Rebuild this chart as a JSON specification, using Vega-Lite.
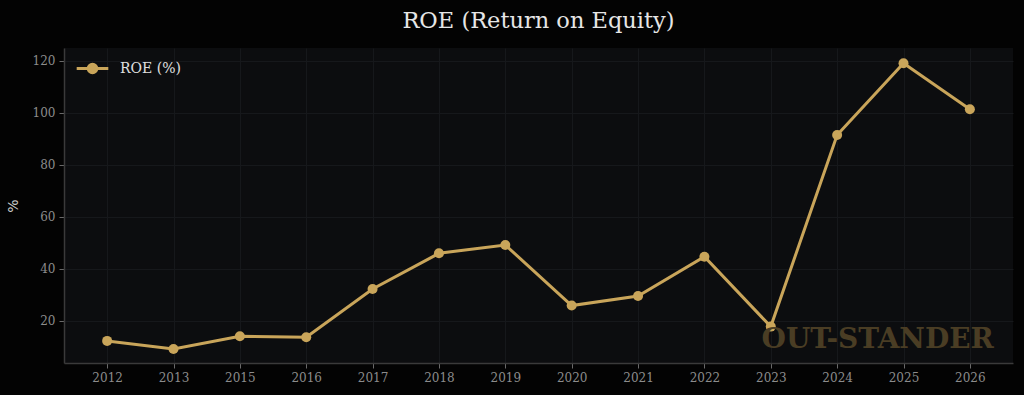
{
  "$schema": "https://vega.github.io/schema/vega-lite/v6.json",
  "width": 949,
  "height": 315,
  "autosize": {"type": "none"},
  "padding": {"left": 64, "top": 48, "right": 11, "bottom": 32},
  "background": "#030303",
  "title": {
    "text": "ROE (Return on Equity)",
    "font": "DejaVu Serif",
    "fontSize": 22.5,
    "fontWeight": "normal",
    "color": "#e6e6e6",
    "anchor": "middle",
    "offset": 16
  },
  "config": {
    "view": {"fill": "#0c0d0f", "stroke": null},
    "axis": {
      "labelFont": "DejaVu Serif",
      "labelFontSize": 12,
      "labelColor": "#8c8c8c",
      "tickColor": "#6a6a6a",
      "tickSize": 5,
      "domainColor": "#3a3a3a",
      "gridColor": "#16181b",
      "gridWidth": 1,
      "titleFont": "DejaVu Sans",
      "titleColor": "#cccccc",
      "titleFontSize": 14,
      "titleFontWeight": "normal"
    }
  },
  "data": {
    "values": [
      {"year": "2012", "roe": 12.3, "series": "ROE (%)"},
      {"year": "2013", "roe": 9.2, "series": "ROE (%)"},
      {"year": "2015", "roe": 14.1, "series": "ROE (%)"},
      {"year": "2016", "roe": 13.7, "series": "ROE (%)"},
      {"year": "2017", "roe": 32.3, "series": "ROE (%)"},
      {"year": "2018", "roe": 46.0, "series": "ROE (%)"},
      {"year": "2019", "roe": 49.2, "series": "ROE (%)"},
      {"year": "2020", "roe": 25.9, "series": "ROE (%)"},
      {"year": "2021", "roe": 29.6, "series": "ROE (%)"},
      {"year": "2022", "roe": 44.7, "series": "ROE (%)"},
      {"year": "2023", "roe": 17.8, "series": "ROE (%)"},
      {"year": "2024", "roe": 91.5, "series": "ROE (%)"},
      {"year": "2025", "roe": 119.1, "series": "ROE (%)"},
      {"year": "2026", "roe": 101.4, "series": "ROE (%)"}
    ]
  },
  "layer": [
    {
      "mark": {"type": "line", "strokeWidth": 3, "point": {"size": 100, "filled": true, "opacity": 1}},
      "encoding": {
        "x": {
          "field": "year",
          "type": "ordinal",
          "scale": {"type": "point", "padding": 0.65},
          "axis": {"title": null, "labelAngle": 0, "grid": true, "labelPadding": 4, "domainWidth": 1.5}
        },
        "y": {
          "field": "roe",
          "type": "quantitative",
          "scale": {"domain": [3.8, 125], "nice": false, "zero": false},
          "axis": {"title": "%", "values": [20, 40, 60, 80, 100, 120], "grid": true, "titlePadding": 12, "labelPadding": 4, "domainWidth": 1.5}
        },
        "color": {
          "field": "series",
          "type": "nominal",
          "scale": {"range": ["#c9a55a"]},
          "legend": {
            "title": null,
            "orient": "none",
            "legendX": 11,
            "legendY": 3,
            "padding": 0,
            "symbolType": "M-1,0L1,0M-0.27,0A0.27,0.27,0,1,1,0.27,0A0.27,0.27,0,1,1,-0.27,0Z",
            "symbolSize": 1000,
            "symbolStrokeWidth": 3,
            "symbolFillColor": "#c9a55a",
            "symbolStrokeColor": "#c9a55a",
            "labelFont": "DejaVu Serif",
            "labelFontSize": 14,
            "labelColor": "#e0e0e0",
            "labelOffset": 10
          }
        }
      }
    },
    {
      "data": {"values": [{"label": "OUT-STANDER"}]},
      "mark": {
        "type": "text",
        "font": "DejaVu Serif",
        "fontWeight": "bold",
        "fontSize": 28,
        "color": "#4a3d24",
        "align": "right",
        "baseline": "alphabetic",
        "dx": 24
      },
      "encoding": {
        "x": {"datum": "2026", "type": "ordinal"},
        "y": {"datum": 9.6, "type": "quantitative"},
        "text": {"field": "label"}
      }
    }
  ]
}
